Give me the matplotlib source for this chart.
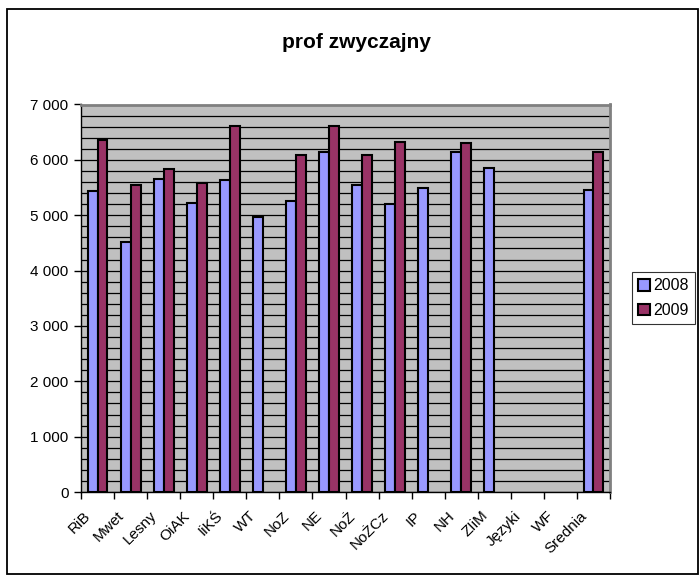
import numpy as np
import matplotlib
matplotlib.use("Agg")
import matplotlib.pyplot as plt
import matplotlib.transforms as mtransforms
from matplotlib.patches import Rectangle
from matplotlib.ticker import MultipleLocator, FuncFormatter

plt.rcParams['font.family'] = ['Liberation Sans', 'DejaVu Sans']

categories = ["RiB", "Mwet", "Lesny", "OiAK", "IiKŚ", "WT", "NoZ", "NE", "NoŻ",
              "NoŻCz", "IP", "NH", "ZIiM", "Języki", "WF", "Srednia"]
nan = np.nan
v2008 = [5430, 4520, 5650, 5220, 5640, 4970, 5250, 6150, 5550, 5200, 5490,
         6150, 5850, nan, nan, 5460]
v2009 = [6350, 5550, 5840, 5580, 6610, nan, 6090, 6610, 6080, 6320, nan,
         6310, nan, nan, nan, 6150]
series = ["2008", "2009"]
colors = ["#9999FF", "#993366"]

W, H = 700, 576
fig = plt.figure(figsize=(W / 100, H / 100), dpi=100)

# outer chart border
fig.patches.append(Rectangle((7 / W, 1 - 574 / H), 691 / W, 565 / H,
                             transform=fig.transFigure, fill=False,
                             edgecolor="black", linewidth=1.3))

ax = fig.add_axes([81 / W, 1 - 492 / H, 529 / W, 387.5 / H])
ax.set_facecolor("#C0C0C0")

x = np.arange(len(categories))
bw = 0.3
for k, (vals, col, name) in enumerate(zip([v2008, v2009], colors, series)):
    vals = np.array(vals, dtype=float)
    ok = ~np.isnan(vals)
    off = (k - 0.5) * bw
    ax.bar(x[ok] + off, vals[ok], width=bw, color=col, edgecolor="black",
           linewidth=1.5, zorder=3, label=name)

ax.set_xlim(-0.5, len(categories) - 0.5)
ax.set_ylim(0, 7000)
ax.yaxis.set_major_locator(MultipleLocator(1000))
ax.yaxis.set_minor_locator(MultipleLocator(200))
ax.yaxis.set_major_formatter(FuncFormatter(lambda v, p: f"{int(v):,}".replace(",", " ")))
ax.grid(axis="y", which="both", color="black", linewidth=0.9, zorder=1)
ax.set_axisbelow(True)

ax.set_xticks(x)
ax.set_xticklabels(categories, rotation=45, ha="right", rotation_mode="anchor")
ax.set_xticks(np.arange(len(categories) + 1) - 0.5, minor=True)
ax.tick_params(axis="x", which="major", length=0, pad=12, labelsize=11)
ax.tick_params(axis="x", which="minor", length=5, width=1, direction="out")
ax.tick_params(axis="y", which="major", length=5, width=1, labelsize=11, pad=4)
ax.tick_params(axis="y", which="minor", length=0)

# nudge rotated labels to the left, like the original
shift = mtransforms.ScaledTranslation(-14 / 100, 0, fig.dpi_scale_trans)
for lab in ax.get_xticklabels():
    lab.set_transform(lab.get_transform() + shift)

for s in ["top", "right"]:
    ax.spines[s].set_color("#808080")
    ax.spines[s].set_linewidth(2)
for s in ["left", "bottom"]:
    ax.spines[s].set_color("black")
    ax.spines[s].set_linewidth(1)

fig.text(356 / W, 1 - 42 / H, "prof zwyczajny", ha="center", va="center",
         fontsize=15, fontweight="bold")

leg = fig.legend(loc="upper left", bbox_to_anchor=(632 / W, 1 - 272 / H),
                 bbox_transform=fig.transFigure, borderaxespad=0,
                 frameon=True, fancybox=False, fontsize=11.5,
                 handlelength=0.75, handleheight=0.75, handletextpad=0.2,
                 borderpad=0.4, labelspacing=0.6)
leg.get_frame().set_edgecolor("black")
leg.get_frame().set_linewidth(0.8)

fig.savefig("out.png", dpi=100)
